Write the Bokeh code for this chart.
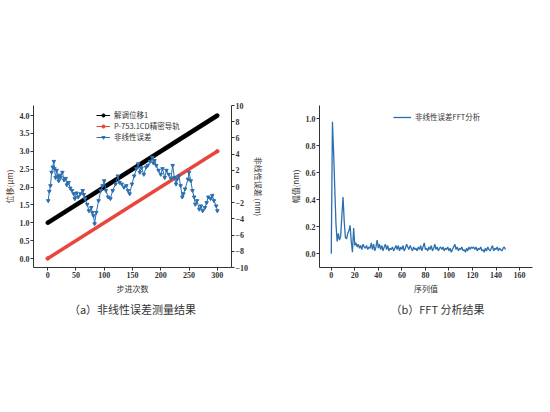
from bokeh.plotting import figure
from bokeh.models import (Range1d, LinearAxis, FixedTicker, Legend, LegendItem, Title,
                          PrintfTickFormatter)
from bokeh.layouts import row
from bokeh.embed import file_html
from bokeh.resources import INLINE

# ---------------- data ----------------
demod_x = [0, 300]
demod_y = [1.0, 4.0]          # 解调位移1 (μm)
rail_x = [0, 300]
rail_y = [0.0, 3.0]           # P-753.1CD精密导轨 (μm)

step_x = [1, 3, 5, 7, 9, 11, 12, 14, 16, 18, 19.5, 21, 23, 26, 29, 32, 34, 37, 40, 43, 46,
          48, 51, 54, 58, 62, 64, 66, 70, 73, 77, 79, 81, 83, 86, 90, 94, 97, 100, 103,
          107, 111, 115, 120, 124, 127, 131, 135, 139, 142, 145, 149, 153, 157, 160, 163,
          166, 170, 174, 177, 181, 185, 187, 189, 192, 196, 200, 203, 207, 210, 214, 218,
          221, 224, 227, 229, 232, 235, 238, 240, 243, 248, 250, 253, 256, 259, 261, 264,
          268, 271, 274, 278, 281, 284, 288, 291, 294, 298, 300]
err_nm = [-1.75, -0.6, 0.1, 1.75, 2.4, 3.1, 2.2, 1.1, 2.0, 1.2, 0.7, 1.4, 1.1, 1.75, 0.8,
          1.0, 0.2, 0.5, -0.2, -0.5, -0.9, -1.5, -0.8, -1.3, -0.9, -0.5, -1.0, -1.5, -2.2,
          -3.0, -2.6, -3.2, -3.6, -4.6, -3.2, -1.75, -0.5, 0.1, 0.7, -0.5, -1.3, -1.5, -0.5,
          0.3, 1.3, 0.5, 0.3, -0.1, 0.1, -0.5, -0.9, 0.3, 1.3, 2.2, 2.8, 1.75, 2.3, 1.5,
          2.4, 2.6, 3.1, 3.6, 2.9, 3.2, 2.6, 2.0, 1.5, 2.2, 1.1, 2.0, 1.5, 1.0, 2.6, 1.1,
          0.3, 0.9, 1.3, 0.1, -1.3, -0.9, -0.3, 0.9, 1.75, 0.7, -0.5, -1.3, -2.2, -1.75,
          -2.8, -2.4, -3.0, -2.6, -2.0, -1.3, -1.5, -1.1, -1.75, -2.4, -3.0]

fft_amp = [0.00, 0.98, 0.75, 0.48, 0.22, 0.09, 0.15, 0.10, 0.13, 0.28, 0.42, 0.24, 0.12,
           0.11, 0.15, 0.17, 0.21, 0.09, 0.01, 0.19, 0.06, 0.08, 0.05, 0.07, 0.04, 0.06,
           0.03, 0.07, 0.05, 0.04, 0.06, 0.03, 0.05, 0.04, 0.08, 0.03, 0.07, 0.02, 0.05,
           0.10, 0.04, 0.07, 0.03, 0.06, 0.02, 0.05, 0.07, 0.03, 0.06, 0.02, 0.04, 0.03,
           0.05, 0.02, 0.04, 0.06, 0.03, 0.06, 0.02, 0.05, 0.03, 0.06, 0.02, 0.04, 0.07,
           0.05, 0.03, 0.06, 0.04, 0.02, 0.05, 0.03, 0.04, 0.02, 0.05, 0.03, 0.06, 0.02,
           0.05, 0.08, 0.03, 0.04, 0.02, 0.05, 0.03, 0.06, 0.02, 0.04, 0.07, 0.03, 0.05,
           0.02, 0.04, 0.05, 0.03, 0.05, 0.02, 0.04, 0.03, 0.05, 0.02, 0.04, 0.01, 0.03,
           0.05, 0.07, 0.03, 0.05, 0.02, 0.04, 0.03, 0.05, 0.02, 0.03, 0.01, 0.04, 0.02,
           0.05, 0.03, 0.05, 0.04, 0.05, 0.03, 0.05, 0.02, 0.04, 0.03, 0.05, 0.02, 0.03,
           0.01, 0.04, 0.02, 0.05, 0.03, 0.02, 0.04, 0.06, 0.02, 0.04, 0.03, 0.05, 0.02,
           0.04, 0.03, 0.02, 0.04, 0.05, 0.03]
fft_idx = list(range(len(fft_amp)))

x1_ticks = [0, 50, 100, 150, 200, 250, 300]
y1_ticks = [0.0, 0.5, 1.0, 1.5, 2.0, 2.5, 3.0, 3.5, 4.0]
y1r_ticks = [-10, -8, -6, -4, -2, 0, 2, 4, 6, 8, 10]
x2_ticks = [0, 20, 40, 60, 80, 100, 120, 140, 160]
y2_ticks = [0.0, 0.2, 0.4, 0.6, 0.8, 1.0]

labels = ["解调位移1", "P-753.1CD精密导轨", "非线性误差"]
fft_label = "非线性误差FFT分析"

# ---------------- style ----------------
CJK = "Noto Sans CJK SC"
SERIF = "Liberation Serif"
AX = "#333333"
BLUE = "#2b6fae"
RED = "#e8453c"


def style_axis(ax, ticks, fmt=None):
    ax.ticker = FixedTicker(ticks=ticks)
    if fmt:
        ax.formatter = PrintfTickFormatter(format=fmt)
    ax.axis_line_color = AX
    ax.major_tick_line_color = AX
    ax.major_tick_in = 0
    ax.major_tick_out = 3
    ax.minor_tick_line_color = None
    ax.major_label_text_font = SERIF
    ax.major_label_text_font_size = "8px"
    ax.major_label_text_font_style = "bold"
    ax.major_label_text_color = AX
    ax.major_label_standoff = 1
    ax.axis_label_text_font = CJK
    ax.axis_label_text_font_size = "8px"
    ax.axis_label_text_font_style = "normal"
    ax.axis_label_text_color = AX
    ax.axis_label_standoff = 2


# ---------------- left figure ----------------
p1 = figure(width=267, height=320, output_backend="svg", toolbar_location=None,
            x_range=Range1d(-25, 325), y_range=Range1d(-0.25, 4.28),
            min_border_left=25, min_border_right=34, min_border_top=105, min_border_bottom=53)
p1.extra_y_ranges = {"err": Range1d(-10, 10)}
p1.grid.visible = False
p1.outline_line_color = None
p1.background_fill_color = None

# thin legend proxies beneath the thick lines
bl_thin = p1.line(demod_x, demod_y, color="black", line_width=1)
bl_dot = p1.scatter(demod_x, demod_y, marker="circle", size=3.5, color="black")
rd_thin = p1.line(rail_x, rail_y, color=RED, line_width=1)
rd_dot = p1.scatter(rail_x, rail_y, marker="circle", size=3.5, color=RED)
p1.line(demod_x, demod_y, color="black", line_width=4.5)
p1.line(rail_x, rail_y, color=RED, line_width=3.5)

bu_line = p1.line(step_x, err_nm, color=BLUE, line_width=1, y_range_name="err")
bu_dot = p1.scatter(step_x, err_nm, marker="inverted_triangle", size=3.5, color=BLUE,
                    y_range_name="err")

style_axis(p1.xaxis[0], x1_ticks)
style_axis(p1.yaxis[0], y1_ticks, "%.1f")
p1.xaxis[0].axis_label = "步进次数"
p1.yaxis[0].axis_label = "位移(μm)"
p1.yaxis[0].axis_label_text_color = "#5a3a30"

rax = LinearAxis(y_range_name="err", axis_label="非线性误差 (nm)")
style_axis(rax, y1r_ticks)
p1.add_layout(rax, "right")

leg1 = Legend(items=[LegendItem(label=labels[0], renderers=[bl_thin, bl_dot]),
                     LegendItem(label=labels[1], renderers=[rd_thin, rd_dot]),
                     LegendItem(label=labels[2], renderers=[bu_line, bu_dot])],
              location=(63, 125), padding=1, margin=0, spacing=0,
              glyph_width=14, glyph_height=8, label_height=8, label_standoff=4,
              label_text_font=CJK, label_text_font_size="7.5px", label_text_color=AX,
              background_fill_alpha=0, border_line_color=None)
p1.add_layout(leg1)
p1.add_layout(Title(text="（a）非线性误差测量结果", align="center", text_font=CJK,
                    text_font_size="11px", text_font_style="normal", text_color=AX,
                    standoff=4), "below")

# ---------------- right figure ----------------
p2 = figure(width=267, height=320, output_backend="svg", toolbar_location=None,
            x_range=Range1d(-10, 171), y_range=Range1d(-0.103, 1.10),
            min_border_left=52, min_border_right=2, min_border_top=103, min_border_bottom=53)
p2.grid.visible = False
p2.outline_line_color = None
p2.background_fill_color = None
fft_line = p2.line(fft_idx, fft_amp, color=BLUE, line_width=1.3)
style_axis(p2.xaxis[0], x2_ticks)
style_axis(p2.yaxis[0], y2_ticks, "%.1f")
p2.xaxis[0].axis_label = "序列值"
p2.yaxis[0].axis_label = "幅值(nm)"
leg2 = Legend(items=[LegendItem(label=fft_label, renderers=[fft_line])],
              location=(74, 145), padding=1, margin=0,
              glyph_width=18, glyph_height=8, label_height=8, label_standoff=4,
              label_text_font=CJK, label_text_font_size="7.5px", label_text_color=AX,
              background_fill_alpha=0, border_line_color=None)
p2.add_layout(leg2)
p2.add_layout(Title(text="（b）FFT 分析结果", align="left", text_font=CJK,
                    text_font_size="11px", text_font_style="normal", text_color=AX,
                    standoff=4, offset=71), "below")

layout = row(p1, p2, spacing=0)
open("out.html", "w").write(file_html(layout, INLINE))
